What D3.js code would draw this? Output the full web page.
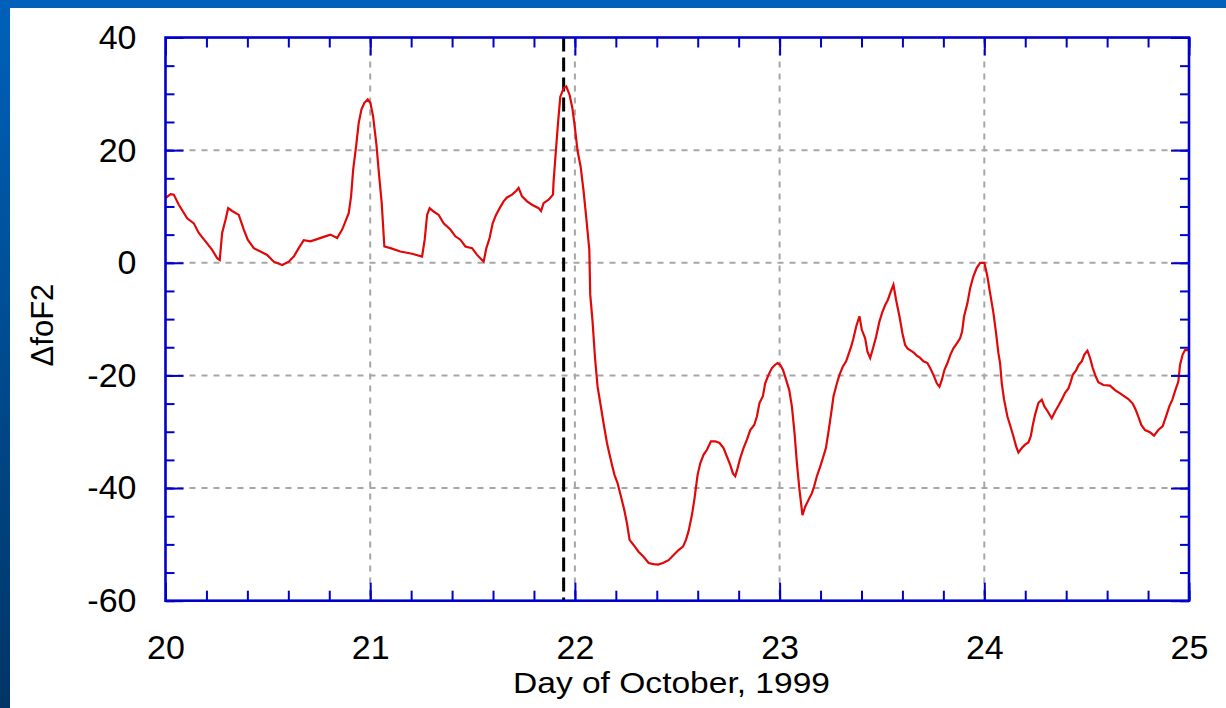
<!DOCTYPE html>
<html>
<head>
<meta charset="utf-8">
<script src="https://cdn.jsdelivr.net/npm/d3@7"></script>
<style>
body { margin: 0; background: #fff; }
text { font-family: "Liberation Sans", Arial, sans-serif; fill: #000; }
</style>
</head>
<body>
<svg id="chart" width="1226" height="708"></svg>
<script>
// [hours after 00 UT Oct 20, delta foF2]
var samples = [
  [0,11.5],[0.59,12.2],[0.97,12.1],[1.56,10.3],[2.54,7.9],[3.32,7.0],[3.90,5.3],[4.69,3.8],[5.47,2.3],[6.06,0.8],
  [6.36,0.5],[6.64,5.3],[7.03,7.6],[7.35,9.7],[7.82,9.2],[8.59,8.5],[9.18,5.9],[9.64,4.1],[10.35,2.6],[11.13,2.0],
  [11.92,1.4],[12.69,0.2],[13.68,-0.4],[14.45,0.2],[15.04,1.1],[15.62,2.6],[16.21,4.0],[16.99,3.8],[17.78,4.2],[18.55,4.6],
  [19.34,5.0],[20.12,4.4],[20.71,5.9],[21.09,7.3],[21.48,8.8],[21.76,11.8],[22.0,16.5],[22.35,20.7],[22.65,24.8],[22.97,27.2],
  [23.32,28.4],[23.71,29.0],[24.02,28.4],[24.34,26.0],[24.73,21.0],[25.04,15.6],[25.35,10.6],[25.66,2.9],[26.37,2.6],[27.54,2.0],
  [28.91,1.6],[30.08,1.1],[30.39,4.1],[30.67,8.5],[30.97,9.7],[31.44,9.1],[32.03,8.5],[32.61,7.0],[33.40,5.9],[33.98,4.7],
  [34.57,4.1],[35.16,2.9],[35.94,2.6],[36.53,1.4],[37.30,0.2],[37.62,2.6],[38.0,4.4],[38.36,7.0],[38.75,8.5],[39.18,9.7],
  [39.64,10.9],[40.04,11.6],[40.63,12.1],[41.13,12.8],[41.40,13.3],[41.80,11.8],[42.39,10.9],[42.97,10.3],[43.75,9.7],[44.03,9.2],
  [44.33,10.6],[44.92,11.2],[45.43,12.1],[45.50,14.4],[45.78,20.1],[46.02,24.8],[46.29,29.5],[46.68,31.0],[46.99,31.3],[47.38,29.8],
  [47.70,27.5],[47.96,24.5],[48.32,19.8],[48.67,17.1],[49.02,12.7],[49.34,7.9],[49.69,2.3],[49.80,-5.7],[50.07,-10.4],[50.36,-16.9],
  [50.66,-22.0],[51.01,-25.2],[51.36,-28.5],[51.76,-32.0],[52.07,-34.1],[52.35,-35.9],[52.65,-37.7],[53.0,-39.1],[53.40,-41.5],[53.79,-43.9],
  [54.10,-46.2],[54.41,-49.2],[54.88,-50.1],[55.46,-51.3],[56.05,-52.2],[56.64,-53.3],[57.22,-53.5],[57.74,-53.6],[58.32,-53.3],[58.98,-52.8],
  [59.57,-51.9],[60.15,-51.0],[60.67,-50.4],[61.02,-49.2],[61.32,-47.7],[61.72,-44.8],[62.03,-41.8],[62.38,-37.7],[62.70,-35.6],[63.08,-34.1],
  [63.48,-33.2],[63.95,-31.7],[64.45,-31.7],[64.96,-32.0],[65.43,-32.9],[65.82,-34.4],[66.21,-35.9],[66.53,-37.4],[66.80,-37.9],[67.07,-36.5],
  [67.38,-34.7],[67.77,-32.9],[68.17,-31.4],[68.56,-29.7],[69.02,-28.8],[69.34,-27.3],[69.64,-24.9],[70.04,-23.7],[70.31,-21.4],[70.70,-19.9],
  [71.10,-18.7],[71.48,-18.1],[71.76,-17.8],[72.07,-18.1],[72.39,-19.0],[72.77,-20.8],[73.13,-22.6],[73.44,-25.5],[73.75,-30.2],[74.03,-35.6],
  [74.33,-40.3],[74.68,-44.8],[75.0,-43.3],[75.39,-42.1],[75.79,-40.9],[76.05,-39.7],[76.37,-37.9],[76.76,-36.2],[77.07,-34.7],[77.43,-32.9],
  [77.73,-30.0],[78.05,-26.7],[78.32,-23.7],[78.72,-21.4],[79.02,-19.9],[79.42,-18.4],[79.80,-17.5],[80.07,-16.3],[80.39,-14.9],[80.66,-13.4],
  [80.98,-11.3],[81.36,-9.5],[81.64,-11.9],[82.03,-13.4],[82.30,-15.8],[82.62,-16.9],[83.0,-14.9],[83.32,-13.1],[83.71,-10.4],[84.06,-8.7],
  [84.38,-7.5],[84.69,-6.6],[85.04,-5.1],[85.35,-3.9],[85.66,-6.6],[86.05,-9.5],[86.40,-12.5],[86.72,-14.6],[86.99,-15.2],[87.39,-15.6],
  [87.77,-16.0],[88.09,-16.5],[88.48,-16.9],[88.86,-17.5],[89.33,-17.8],[89.65,-18.7],[90.04,-19.9],[90.43,-21.4],[90.74,-22.0],[91.02,-20.8],
  [91.33,-19.0],[91.68,-17.8],[92.03,-16.3],[92.38,-15.2],[92.78,-14.3],[93.16,-13.4],[93.40,-12.2],[93.63,-9.5],[94.02,-7.2],[94.34,-4.5],
  [94.72,-2.4],[95.12,-0.9],[95.51,0.0],[96.01,0.0],[96.36,-2.4],[96.68,-5.4],[97.07,-8.9],[97.38,-12.5],[97.65,-16.0],[97.85,-17.8],
  [98.05,-21.4],[98.32,-24.3],[98.71,-27.3],[99.02,-28.8],[99.41,-30.8],[99.73,-32.6],[100.0,-33.7],[100.40,-32.9],[100.78,-32.3],[101.17,-31.9],
  [101.45,-30.8],[101.69,-28.8],[101.95,-27.0],[102.34,-24.9],[102.74,-24.3],[103.05,-25.5],[103.44,-26.4],[103.91,-27.6],[104.30,-26.4],[104.69,-25.4],
  [105.08,-24.3],[105.47,-23.1],[105.86,-22.3],[106.14,-21.1],[106.37,-19.9],[106.76,-19.1],[107.08,-18.1],[107.43,-17.5],[107.73,-16.3],[108.09,-15.6],
  [108.40,-16.9],[108.72,-18.7],[109.07,-20.2],[109.37,-21.2],[109.96,-21.7],[110.74,-21.8],[111.33,-22.6],[111.83,-23.1],[112.30,-23.6],[112.89,-24.2],
  [113.40,-25.0],[113.75,-26.1],[114.06,-27.3],[114.41,-28.8],[114.84,-29.7],[115.43,-30.1],[115.90,-30.7],[116.40,-29.7],[116.92,-29.0],[117.30,-27.3],
  [117.69,-25.5],[118.05,-24.3],[118.40,-22.6],[118.75,-21.1],[118.95,-18.1],[119.26,-16.3],[119.53,-15.5],[120.0,-15.5]
];

var dayTicks = [20, 21, 22, 23, 24, 25];
var valueTicks = [40, 20, 0, -20, -40, -60];
var gridDays = [21, 22, 23, 24];
var gridValues = [20, 0, -20, -40];
var onsetDay = 21.945;
var xTitle = "Day of October, 1999";
var yTitle = "\u0394foF2";

var svg = d3.select("#chart"),
    W = 1226, H = 708,
    plotL = 165.5, plotR = 1189, plotT = 37.5, plotB = 600.7,
    frameBlue = "#0000cc";

// slide background
var defs = svg.append("defs");
var grad = defs.append("linearGradient").attr("id", "sideGrad")
    .attr("x1", 0).attr("y1", 0).attr("x2", 0).attr("y2", 1);
grad.append("stop").attr("offset", 0).attr("stop-color", "#0061ba");
grad.append("stop").attr("offset", 1).attr("stop-color", "#003566");
svg.append("rect").attr("width", W).attr("height", H).attr("fill", "#fff");
svg.append("rect").attr("width", W).attr("height", 8).attr("fill", "#0061ba");
svg.append("rect").attr("width", 10).attr("height", H).attr("fill", "url(#sideGrad)");

defs.append("clipPath").attr("id", "plotClip").append("rect")
    .attr("x", plotL).attr("y", plotT).attr("width", plotR - plotL).attr("height", plotB - plotT);

var x = d3.scaleLinear().domain([20, 25]).range([plotL, plotR]);
var y = d3.scaleLinear().domain([-60, 40]).range([plotB, plotT]);

// dashed grid
var grid = svg.append("g").attr("stroke", "#a6a6a6").attr("stroke-width", 2)
    .attr("stroke-dasharray", "6,6");
grid.selectAll(".gx").data(gridDays).enter().append("line")
    .attr("x1", function(d) { return x(d); }).attr("x2", function(d) { return x(d); })
    .attr("y1", plotT).attr("y2", plotB);
grid.selectAll(".gy").data(gridValues).enter().append("line")
    .attr("x1", plotL).attr("x2", plotR)
    .attr("y1", function(d) { return y(d); }).attr("y2", function(d) { return y(d); });

// storm onset marker
svg.append("line")
    .attr("x1", x(onsetDay)).attr("x2", x(onsetDay))
    .attr("y1", plotT).attr("y2", plotB)
    .attr("stroke", "#000").attr("stroke-width", 3)
    .attr("stroke-dasharray", "14,6");

// data line
var line = d3.line()
    .x(function(d) { return x(20 + d[0] / 24); })
    .y(function(d) { return y(d[1]); });

svg.append("path")
    .datum(samples)
    .attr("clip-path", "url(#plotClip)")
    .attr("fill", "none")
    .attr("stroke", "#e00808")
    .attr("stroke-width", 2.2)
    .attr("d", line);

// axes
var minorDays = d3.range(0, 26).map(function(i) { return 20 + i * 0.2; });
var minorValues = d3.range(-60, 41, 5);
var plain = function(d) { return String(d); };

function styleAxis(g) {
    g.select(".domain").remove();
    g.selectAll(".tick line").attr("stroke", frameBlue).attr("stroke-width", 2);
    g.selectAll(".tick text").style("font-size", "34px").attr("fill", "#000");
}

svg.append("g").attr("transform", "translate(0," + plotB + ")")
    .call(d3.axisBottom(x).tickValues(minorDays).tickSize(-10).tickFormat(""))
    .call(styleAxis);
svg.append("g").attr("transform", "translate(0," + plotB + ")")
    .call(d3.axisBottom(x).tickValues(dayTicks).tickSize(-18).tickPadding(34).tickFormat(plain))
    .call(styleAxis);
svg.append("g").attr("transform", "translate(0," + plotT + ")")
    .call(d3.axisTop(x).tickValues(minorDays).tickSize(-10).tickFormat(""))
    .call(styleAxis);
svg.append("g").attr("transform", "translate(0," + plotT + ")")
    .call(d3.axisTop(x).tickValues(dayTicks).tickSize(-18).tickFormat(""))
    .call(styleAxis);

svg.append("g").attr("transform", "translate(" + plotL + ",0)")
    .call(d3.axisLeft(y).tickValues(minorValues).tickSize(-9).tickFormat(""))
    .call(styleAxis);
svg.append("g").attr("transform", "translate(" + plotL + ",0)")
    .call(d3.axisLeft(y).tickValues(valueTicks).tickSize(-18).tickPadding(29).tickFormat(plain))
    .call(styleAxis);
svg.append("g").attr("transform", "translate(" + plotR + ",0)")
    .call(d3.axisRight(y).tickValues(minorValues).tickSize(-9).tickFormat(""))
    .call(styleAxis);
svg.append("g").attr("transform", "translate(" + plotR + ",0)")
    .call(d3.axisRight(y).tickValues(valueTicks).tickSize(-18).tickFormat(""))
    .call(styleAxis);

// frame
svg.append("rect")
    .attr("x", plotL).attr("y", plotT)
    .attr("width", plotR - plotL).attr("height", plotB - plotT)
    .attr("fill", "none").attr("stroke", frameBlue).attr("stroke-width", 2.6);

// titles
svg.append("text")
    .attr("x", 671.5).attr("y", 693)
    .attr("text-anchor", "middle")
    .attr("textLength", 317).attr("lengthAdjust", "spacingAndGlyphs")
    .style("font-size", "30px")
    .text(xTitle);

svg.append("text")
    .attr("transform", "translate(53,325) rotate(-90)")
    .attr("text-anchor", "middle")
    .style("font-size", "31px")
    .text(yTitle);
</script>
</body>
</html>
